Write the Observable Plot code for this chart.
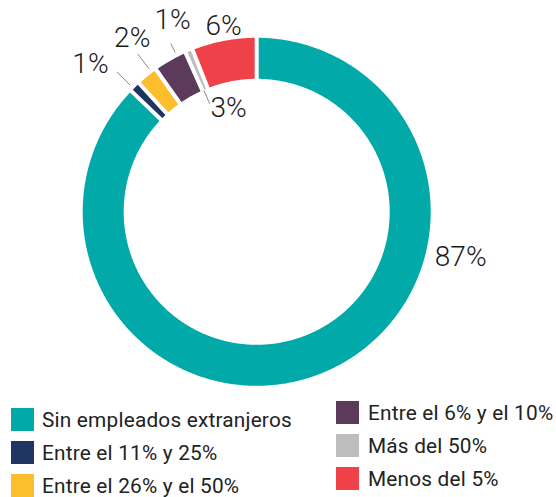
<!DOCTYPE html>
<html>
<head>
<meta charset="utf-8">
<script src="https://cdn.jsdelivr.net/npm/d3@7"></script>
<script src="https://cdn.jsdelivr.net/npm/@observablehq/plot@0.6"></script>
<style>
  html, body { margin: 0; padding: 0; background: #fff; }
  #wrap { width: 556px; height: 497px; position: relative; font-family: Roboto, "Noto Sans", sans-serif; overflow: hidden; }
  #legend { position: relative; height: 99px; }
  .col { position: absolute; top: 0; }
  .row { display: flex; align-items: center; height: 23px; margin-bottom: 10px; }
  .sw { width: 23px; height: 23px; flex: none; }
  .lab { font-size: 20.8px; letter-spacing: 0.2px; color: #222; white-space: nowrap; }
</style>
</head>
<body>
<div id="wrap">
  <div id="chart"></div>
  <div id="legend"></div>
</div>
<script>
// ---- data ----
const categories = [
  "Sin empleados extranjeros",
  "Entre el 11% y 25%",
  "Entre el 26% y el 50%",
  "Entre el 6% y el 10%",
  "Más del 50%",
  "Menos del 5%"
];
const values = [87.2, 1.0, 2.0, 3.1, 0.7, 6.0];
const pctLabels = ["87%", "1%", "2%", "3%", "1%", "6%"];
const colors = ["#02a9a9", "#1e3461", "#fdbe2e", "#5c3a5c", "#bdbdbd", "#ef414a"];

// ---- layout (geometry, not data) ----
const W = 556, H = 398;
const cx = 256.2, cy = 211.3, R = 174, r0 = 133, gap = 4;
// label placement relative to slice mid-angle (deg) and radius
const labelShift = [-54.4, -4.0, 3.2, 14.5, -0.9, 0.7];
const labelRadius = [209, 222.7, 213.4, 107.6, 209, 189.2];
// leader lines: [angle shift, r1, r2] or null
const leaders = [null, [-0.7, 178.6, 197.9], [1.9, 179, 197.7], [6.2, 117.7, 132.3], [-4.2, 179, 189], null];

const total = d3.sum(values);
const rad = Math.PI / 180;
let acc = 0;
const slices = values.map((v, i) => {
  const a0 = acc / total * 360;
  acc += v;
  const a1 = acc / total * 360;
  return {i, cat: categories[i], a0, a1, mid: (a0 + a1) / 2};
});
const px = (a, r) => cx + r * Math.sin(a * rad);
const py = (a, r) => cy - r * Math.cos(a * rad);

// polygon outlines for each slice with parallel gaps
const pts = [];
for (const s of slices) {
  const d = gap / 2;
  const oA = Math.asin(d / R) / rad, iA = Math.asin(d / r0) / rad;
  const oa0 = s.a0 + oA, oa1 = s.a1 - oA, ia0 = s.a0 + iA, ia1 = s.a1 - iA;
  const n = Math.max(4, Math.ceil((oa1 - oa0) / 0.5));
  for (let k = 0; k <= n; k++) {
    const a = oa0 + (oa1 - oa0) * k / n;
    pts.push({cat: s.cat, x: px(a, R), y: py(a, R)});
  }
  for (let k = 0; k <= n; k++) {
    const a = ia1 + (ia0 - ia1) * k / n;
    pts.push({cat: s.cat, x: px(a, r0), y: py(a, r0)});
  }
}

const labels = slices.map(s => {
  const a = s.mid + labelShift[s.i];
  return {text: pctLabels[s.i], x: px(a, labelRadius[s.i]), y: py(a, labelRadius[s.i])};
});
const links = slices.filter(s => leaders[s.i]).map(s => {
  const [sh, ra, rb] = leaders[s.i];
  const a = s.mid + sh;
  return {x1: px(a, ra), y1: py(a, ra), x2: px(a, rb), y2: py(a, rb)};
});

const plot = Plot.plot({
  width: W, height: H,
  margin: 0,
  x: {domain: [0, W], range: [0, W], axis: null},
  y: {domain: [0, H], range: [0, H], axis: null},
  color: {domain: categories, range: colors},
  style: {fontFamily: "Roboto, 'Noto Sans', sans-serif", background: "#fff"},
  marks: [
    Plot.line(pts, {x: "x", y: "y", z: "cat", fill: "cat", stroke: null, curve: "linear-closed"}),
    Plot.link(links, {x1: "x1", y1: "y1", x2: "x2", y2: "y2", stroke: "#8a8a8a", strokeWidth: 1}),
    Plot.text(labels, {x: "x", y: "y", text: "text", fontSize: 28, fontWeight: 300, fill: "#1a1a1a", textAnchor: "middle", lineAnchor: "middle"})
  ]
});
document.getElementById("chart").appendChild(plot);

// legend (HTML, below the SVG)
const legend = document.getElementById("legend");
const cols = [{left: 11, top: 10, items: [0, 1, 2]}, {left: 336, top: 3, items: [3, 4, 5]}];
for (const c of cols) {
  const col = document.createElement("div");
  col.className = "col";
  col.style.left = c.left + "px";
  col.style.top = c.top + "px";
  for (const i of c.items) {
    const row = document.createElement("div");
    row.className = "row";
    const sw = document.createElement("div");
    sw.className = "sw";
    sw.style.background = colors[i];
    const lab = document.createElement("span");
    lab.className = "lab";
    lab.style.marginLeft = (c.left === 11 ? 8 : 9) + "px";
    lab.textContent = categories[i];
    row.appendChild(sw);
    row.appendChild(lab);
    col.appendChild(row);
  }
  legend.appendChild(col);
}
</script>
</body>
</html>
